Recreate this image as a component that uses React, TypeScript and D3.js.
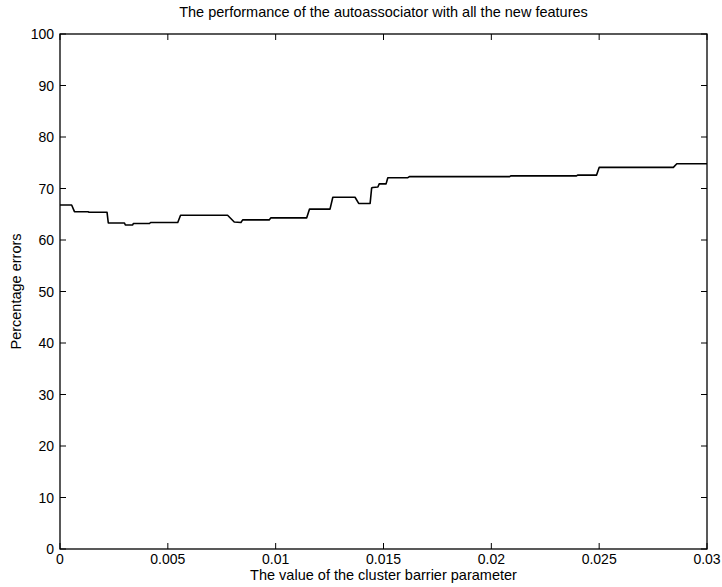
import React, { useEffect, useRef } from "react";
import * as d3 from "d3";

// Cluster barrier parameter values (x) and the resulting percentage errors (y)
const barrier: number[] = [
  0, 0.00054, 0.00067, 0.0013, 0.00135, 0.00218, 0.00224, 0.00299, 0.00303,
  0.00337, 0.0034, 0.00415, 0.0042, 0.00546, 0.00559, 0.00777, 0.00808, 0.00839,
  0.00847, 0.0097, 0.00978, 0.01144, 0.01157, 0.01252, 0.01265, 0.01368,
  0.01385, 0.01438, 0.01445, 0.0145, 0.01474, 0.0148, 0.01512, 0.0152, 0.01613,
  0.0162, 0.02085, 0.0209, 0.02395, 0.024, 0.02488, 0.025, 0.02844, 0.0286,
  0.03,
];
const errorPct: number[] = [
  66.8, 66.8, 65.5, 65.5, 65.4, 65.4, 63.3, 63.3, 62.9, 62.9, 63.2, 63.2, 63.4,
  63.4, 64.8, 64.8, 63.5, 63.4, 63.9, 63.9, 64.3, 64.3, 66.0, 66.0, 68.3, 68.3,
  67.1, 67.1, 70.1, 70.2, 70.3, 70.9, 70.9, 72.1, 72.1, 72.3, 72.3, 72.45,
  72.45, 72.6, 72.6, 74.1, 74.1, 74.8, 74.8,
];

const xTicks: number[] = [0, 0.005, 0.01, 0.015, 0.02, 0.025, 0.03];
const xTickLabels: string[] = ["0", "0.005", "0.01", "0.015", "0.02", "0.025", "0.03"];
const yTicks: number[] = [0, 10, 20, 30, 40, 50, 60, 70, 80, 90, 100];

const titleText = "The performance of the autoassociator with all the new features";
const xLabelText = "The value of the cluster barrier parameter";
const yLabelText = "Percentage errors";

const W = 722;
const H = 587;
const left = 60;
const right = 707;
const top = 34;
const bottom = 549;
const font = "'Liberation Sans', Arial, Helvetica, sans-serif";
const tickFs = 14;
const labelFs = 14.5;

export default function App() {
  const ref = useRef<SVGSVGElement | null>(null);

  useEffect(() => {
    const svg = d3.select(ref.current);
    svg.selectAll("*").remove();

    const x = d3.scaleLinear().domain([0, 0.03]).range([left, right]);
    const y = d3.scaleLinear().domain([0, 100]).range([bottom, top]);
    const tickLen = 6;

    svg.append("rect").attr("width", W).attr("height", H).attr("fill", "#fff");

    const g = svg.append("g");

    // data curve
    const pts: [number, number][] = barrier.map((b, i) => [b, errorPct[i]]);
    const line = d3
      .line<[number, number]>()
      .x((d) => x(d[0]))
      .y((d) => y(d[1]));
    g.append("path")
      .attr("d", line(pts) as string)
      .attr("fill", "none")
      .attr("stroke", "#000")
      .attr("stroke-width", 1.6)
      .attr("stroke-linejoin", "round");

    // box
    g.append("rect")
      .attr("x", left)
      .attr("y", top)
      .attr("width", right - left)
      .attr("height", bottom - top)
      .attr("fill", "none")
      .attr("stroke", "#000")
      .attr("stroke-width", 1.3);

    // x ticks (bottom and top, pointing inward)
    xTicks.forEach((t, i) => {
      const px = x(t);
      g.append("line")
        .attr("x1", px).attr("x2", px)
        .attr("y1", bottom).attr("y2", bottom - tickLen)
        .attr("stroke", "#000");
      g.append("line")
        .attr("x1", px).attr("x2", px)
        .attr("y1", top).attr("y2", top + tickLen)
        .attr("stroke", "#000");
      g.append("text")
        .attr("x", px)
        .attr("y", bottom + 15)
        .attr("text-anchor", "middle")
        .attr("font-family", font)
        .attr("font-size", tickFs)
        .text(xTickLabels[i]);
    });

    // y ticks (left and right, pointing inward)
    yTicks.forEach((t) => {
      const py = y(t);
      g.append("line")
        .attr("x1", left).attr("x2", left + tickLen)
        .attr("y1", py).attr("y2", py)
        .attr("stroke", "#000");
      g.append("line")
        .attr("x1", right).attr("x2", right - tickLen)
        .attr("y1", py).attr("y2", py)
        .attr("stroke", "#000");
      g.append("text")
        .attr("x", left - 6)
        .attr("y", py + 5)
        .attr("text-anchor", "end")
        .attr("font-family", font)
        .attr("font-size", tickFs)
        .text(String(t));
    });

    // labels
    g.append("text")
      .attr("x", (left + right) / 2)
      .attr("y", 17)
      .attr("text-anchor", "middle")
      .attr("font-family", font)
      .attr("font-size", labelFs)
      .text(titleText);
    g.append("text")
      .attr("x", (left + right) / 2)
      .attr("y", bottom + 31)
      .attr("text-anchor", "middle")
      .attr("font-family", font)
      .attr("font-size", labelFs)
      .text(xLabelText);
    g.append("text")
      .attr("transform", `translate(21,${(top + bottom) / 2}) rotate(-90)`)
      .attr("text-anchor", "middle")
      .attr("font-family", font)
      .attr("font-size", labelFs)
      .text(yLabelText);
  }, []);

  return (
    <svg
      ref={ref}
      width={W}
      height={H}
      style={{ position: "absolute", left: 0, top: 0, display: "block" }}
    />
  );
}
